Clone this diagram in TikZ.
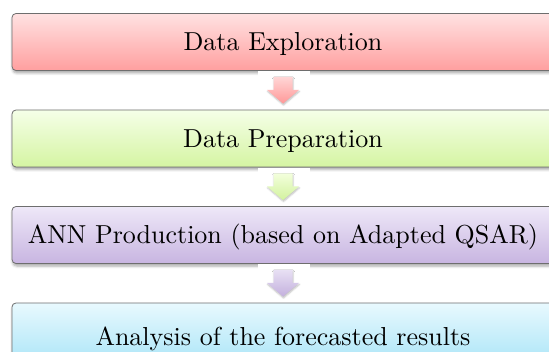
\documentclass[tikz,border=0pt]{standalone}
\usepackage{fontspec}
\setmainfont{lmroman10-regular.otf}
\usetikzlibrary{positioning, shadows.blur}

\definecolor{framegray}{HTML}{6E6E6E}
\definecolor{redtop}{HTML}{FFE2E2}
\definecolor{redbot}{HTML}{FF9F9F}
\definecolor{greentop}{HTML}{F5FFE8}
\definecolor{greenbot}{HTML}{D5F4A2}
\definecolor{purpletop}{HTML}{EEE8F8}
\definecolor{purplebot}{HTML}{C8B5E1}
\definecolor{bluetop}{HTML}{E8F9FE}
\definecolor{bluebot}{HTML}{A5E3F7}
\definecolor{redarrowtop}{HTML}{FFD6D6}
\definecolor{redarrowbot}{HTML}{FF9898}
\definecolor{greenarrowtop}{HTML}{F3FFDC}
\definecolor{greenarrowbot}{HTML}{D2F29E}
\definecolor{purplearrowtop}{HTML}{E8E0F4}
\definecolor{purplearrowbot}{HTML}{C3B0DD}

\tikzset{
	stage/.style = {draw = framegray, line width = 0.8pt, rounded corners = 4pt,
		minimum width = 542pt, minimum height = 57pt, inner xsep = 2pt,
		text height = 18pt, text depth = 0pt, font = \fontsize{26}{30}\selectfont,
		blur shadow = {shadow xshift = 0.6pt, shadow yshift = -2.5pt, shadow blur radius = 2.5pt, shadow opacity = 35}},
}

\begin{document}
\begin{tikzpicture}[x = 1pt, y = -1pt, node distance = 38.7pt]
	
	\useasboundingbox (0, 0) rectangle (549, 352);
	
	% The stages
	
	\node [stage, top color = redtop, bottom color = redbot] (expl) at (283, 42) {Data Exploration};
	\node [stage, top color = greentop, bottom color = greenbot, below = of expl] (prep) {Data Preparation};
	\node [stage, top color = purpletop, bottom color = purplebot, below = of prep] (ann) {ANN Production (based on Adapted QSAR)};
	\node [stage, top color = bluetop, bottom color = bluebot, minimum height = 67pt, below = of ann] (anal) {Analysis of the forecasted results};
	
	% Arrows between the stages
	
	\foreach \a/\b/\c in {expl/prep/red, prep/ann/green, ann/anal/purple}
	{
		\fill [white] ([xshift = -25pt, yshift = -0.6pt]\a.south) rectangle ([xshift = 27pt, yshift = -8pt]\a.south);
		\path [top color = \c arrowtop, bottom color = \c arrowbot,
			blur shadow = {shadow xshift = 0.5pt, shadow yshift = -1.5pt, shadow blur radius = 1.5pt, shadow opacity = 25}]
			([xshift = -9.5pt, yshift = -6pt]\a.south) -- ([xshift = 9.5pt, yshift = -6pt]\a.south)
			-- ([xshift = 9.5pt, yshift = -19pt]\a.south) -- ([xshift = 16pt, yshift = -19pt]\a.south)
			-- ([yshift = 6pt]\b.north) -- ([xshift = -16pt, yshift = -19pt]\a.south)
			-- ([xshift = -9.5pt, yshift = -19pt]\a.south) -- cycle;
	}

\end{tikzpicture}
\end{document}
